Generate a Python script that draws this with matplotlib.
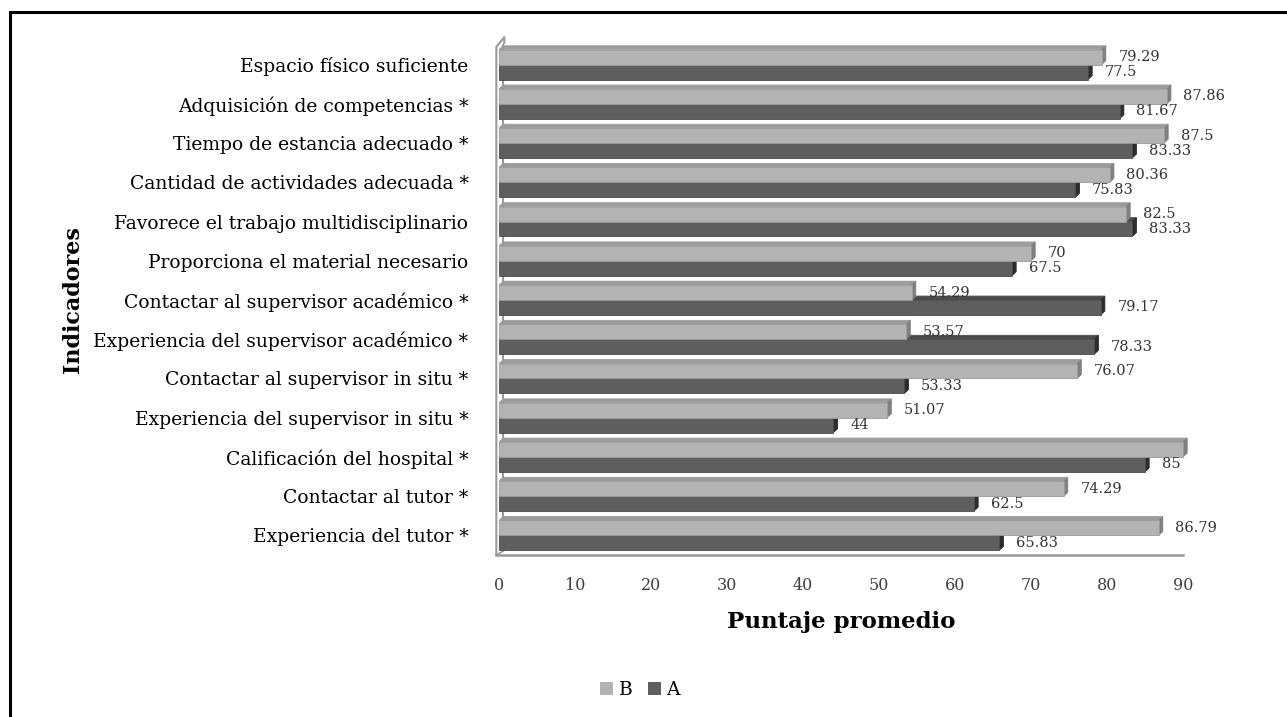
import matplotlib
matplotlib.use("Agg")
import matplotlib.pyplot as plt
from matplotlib.patches import Polygon, Rectangle
import numpy as np

plt.rcParams['font.family'] = ['DejaVu Serif', 'Liberation Serif']

# data, top row first
categorias = [
    'Espacio físico suficiente',
    'Adquisición de competencias *',
    'Tiempo de estancia adecuado *',
    'Cantidad de actividades adecuada *',
    'Favorece el trabajo multidisciplinario',
    'Proporciona el material necesario',
    'Contactar al supervisor académico *',
    'Experiencia del supervisor académico *',
    'Contactar al supervisor in situ *',
    'Experiencia del supervisor in situ *',
    'Calificación del hospital *',
    'Contactar al tutor *',
    'Experiencia del tutor *',
]
valores_b = [79.29, 87.86, 87.5, 80.36, 82.5, 70, 54.29, 53.57, 76.07, 51.07, 90, 74.29, 86.79]
valores_a = [77.5, 81.67, 83.33, 75.83, 83.33, 67.5, 79.17, 78.33, 53.33, 44, 85, 62.5, 65.83]
x_ticks = [0, 10, 20, 30, 40, 50, 60, 70, 80, 90]

# colours: front, top, side
col_b = ('#b3b3b3', '#9c9c9c', '#808080')
col_a = ('#5e5e5e', '#4b4b4b', '#2c2c2c')

W, H = 1287, 717
fig = plt.figure(figsize=(W / 100, H / 100), dpi=100)
ax = fig.add_axes([499 / W, 1 - 555 / H, 684 / W, 510 / H])

n = len(categorias)
y = np.arange(n)
h = 0.38          # bar thickness
dx, dy = 0.55, 0.1  # fake 3d depth


def bar3d(ax, y0, val, cols, z):
    top, bot = y0 - h / 2, y0 + h / 2
    front = Polygon([(0, top), (val, top), (val, bot), (0, bot)], closed=True,
                    facecolor=cols[0], edgecolor=cols[1], lw=0.6, zorder=z)
    upper = Polygon([(0, top), (val, top), (val + dx, top - dy), (dx, top - dy)], closed=True,
                    facecolor=cols[1], edgecolor=cols[1], lw=0.6, zorder=z)
    side = Polygon([(val, top), (val, bot), (val + dx, bot - dy), (val + dx, top - dy)], closed=True,
                   facecolor=cols[2], edgecolor=cols[2], lw=0.6, zorder=z)
    for p in (upper, side, front):
        p.set_clip_on(False)
        ax.add_patch(p)


# wall and floor
ytop, ybot = -0.5, n - 0.5
wx = -0.35
wall_col = '#9a9a9a'
ax.plot([wx, wx, wx + dx + 0.5, wx + dx + 0.5], [ybot, ytop + 0.05, ytop - 0.2, ytop - 0.05],
        color=wall_col, lw=1.5, clip_on=False, zorder=1)
ax.plot([dx, dx], [ytop, ybot - dy], color=wall_col, lw=1.5, clip_on=False, zorder=1)
ax.plot([wx, 90], [ybot, ybot], color=wall_col, lw=1.8, clip_on=False, zorder=1)
ax.plot([wx, dx], [ybot, ybot - dy], color=wall_col, lw=1.2, clip_on=False, zorder=1)

for i in range(n):
    # A first, then B on top of it
    bar3d(ax, y[i] + h / 2, valores_a[i], col_a, 2 + 2 * (n - i))
    bar3d(ax, y[i] - h / 2, valores_b[i], col_b, 3 + 2 * (n - i))
    ax.annotate(f'{valores_b[i]:g}', (valores_b[i] + dx, y[i] - h / 2), xytext=(9, 0),
                textcoords='offset points', ha='left', va='center', fontsize=10.5,
                color='#333333', zorder=40)
    ax.annotate(f'{valores_a[i]:g}', (valores_a[i] + dx, y[i] + h / 2), xytext=(9, 0),
                textcoords='offset points', ha='left', va='center', fontsize=10.5,
                color='#333333', zorder=40)

ax.set_xlim(0, 90)
ax.set_ylim(n - 0.5, -0.5)
ax.set_yticks(y)
ax.set_yticklabels(categorias, fontsize=13.5)
ax.set_xticks(x_ticks)
ax.set_xticklabels([str(t) for t in x_ticks], fontsize=11.5, color='#404040')
ax.tick_params(axis='y', length=0, pad=22)
ax.tick_params(axis='x', length=0, pad=16)
for s in ax.spines.values():
    s.set_visible(False)
ax.patch.set_visible(False)

ax.set_xlabel('Puntaje promedio', fontsize=16.5, fontweight='bold', labelpad=12)
ax.set_ylabel('Indicadores', fontsize=16, fontweight='bold')
ax.yaxis.set_label_coords(-0.607, 0.5)

# legend
hb = Rectangle((0, 0), 1, 1, facecolor=col_b[0])
ha_ = Rectangle((0, 0), 1, 1, facecolor=col_a[0])
fig.legend([hb, ha_], ['B', 'A'], loc='center', bbox_to_anchor=(640 / W, 1 - 690 / H),
           ncol=2, frameon=False, fontsize=13.5, handlelength=0.7, handleheight=0.7,
           handletextpad=0.3, columnspacing=0.8)

# outer frame (right/bottom edges fall outside the image)
fig.add_artist(Rectangle((9.5 / W, -0.1), 1.2, 1 - 11.5 / H + 0.1, transform=fig.transFigure,
                         fill=False, edgecolor='black', lw=2.2, clip_on=False))

fig.savefig('out.png', dpi=100)
